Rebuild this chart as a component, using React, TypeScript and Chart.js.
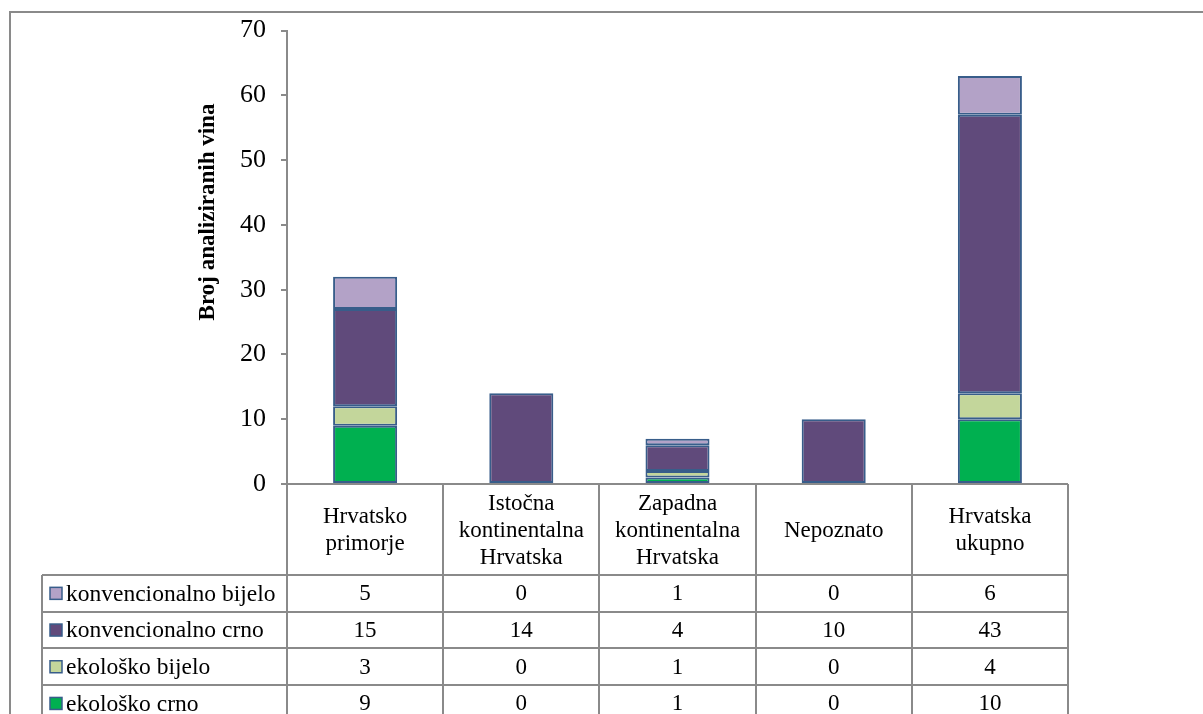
import React, { useEffect, useRef } from "react";
import { Chart, registerables } from "chart.js";

Chart.register(...registerables);

// ---------- data ----------
const categories: string[][] = [
  ["Hrvatsko", "primorje"],
  ["Istočna", "kontinentalna", "Hrvatska"],
  ["Zapadna", "kontinentalna", "Hrvatska"],
  ["Nepoznato"],
  ["Hrvatska", "ukupno"],
];
const ekoloskoCrno = [9, 0, 1, 0, 10];
const ekoloskoBijelo = [3, 0, 1, 0, 4];
const konvencionalnoCrno = [15, 14, 4, 10, 43];
const konvencionalnoBijelo = [5, 0, 1, 0, 6];
const seriesNames = ["ekološko crno", "ekološko bijelo", "konvencionalno crno", "konvencionalno bijelo"];
const seriesValues = [ekoloskoCrno, ekoloskoBijelo, konvencionalnoCrno, konvencionalnoBijelo];
const seriesColors = ["#00B050", "#C3D69B", "#604A7B", "#B3A2C7"];
const yTitle = "Broj analiziranih vina";
const yMin = 0;
const yMax = 70;
const yStep = 10;

// ---------- style ----------
const FONT = '"Liberation Serif", "Times New Roman", serif';
const GRID = "#8a8a8a";
const BAR_BORDER = "#385D8A";
const W = 1203;
const H = 714;

const tablePlugin = {
  id: "dataTable",
  afterDraw(chart: any) {
    const ctx: CanvasRenderingContext2D = chart.ctx;
    const xs = chart.scales.x;
    const area = chart.chartArea;
    const n = categories.length;
    const catW = (xs.getPixelForValue(1) - xs.getPixelForValue(0));
    const colEdges: number[] = [];
    for (let i = 0; i <= n; i++) colEdges.push(Math.round(xs.getPixelForValue(0) - catW / 2 + i * catW));
    const headerTop = area.bottom;
    const headerBottom = 575;
    const rowH = 36.7;
    const tableLeft = 42;
    const rows = seriesNames.length;
    const rowY = (r: number) => headerBottom + r * rowH;
    const tableBottom = rowY(rows);

    ctx.save();
    // outer border
    ctx.strokeStyle = GRID;
    ctx.lineWidth = 2;
    ctx.beginPath();
    ctx.moveTo(10, H + 5);
    ctx.lineTo(10, 12);
    ctx.lineTo(W + 5, 12);
    ctx.stroke();

    // table grid
    ctx.beginPath();
    ctx.moveTo(area.left - 6, headerTop);
    ctx.lineTo(colEdges[n], headerTop);
    for (let r = 0; r <= rows; r++) {
      const y = Math.round(rowY(r));
      ctx.moveTo(tableLeft, y);
      ctx.lineTo(colEdges[n], y);
    }
    ctx.moveTo(tableLeft, headerBottom);
    ctx.lineTo(tableLeft, tableBottom);
    for (let i = 0; i <= n; i++) {
      ctx.moveTo(colEdges[i], headerTop);
      ctx.lineTo(colEdges[i], tableBottom);
    }
    ctx.stroke();

    // header labels
    ctx.fillStyle = "#000";
    ctx.font = `23px ${FONT}`;
    ctx.textAlign = "center";
    ctx.textBaseline = "middle";
    const lh = 27;
    const hc = (headerTop + headerBottom) / 2;
    categories.forEach((lines, i) => {
      const cx = xs.getPixelForValue(i);
      const start = hc - ((lines.length - 1) * lh) / 2;
      lines.forEach((t, k) => ctx.fillText(t, cx, start + k * lh + 1));
    });

    // rows (top to bottom = last series first)
    for (let r = 0; r < rows; r++) {
      const s = rows - 1 - r;
      const cy = rowY(r) + rowH / 2;
      // legend key
      ctx.fillStyle = seriesColors[s];
      ctx.fillRect(50, cy - 6, 12, 12);
      ctx.strokeStyle = BAR_BORDER;
      ctx.lineWidth = 1.5;
      ctx.strokeRect(50, cy - 6, 12, 12);
      ctx.fillStyle = "#000";
      ctx.textAlign = "left";
      ctx.font = `23.5px ${FONT}`;
      ctx.fillText(seriesNames[s], 66, cy + 1);
      ctx.font = `23px ${FONT}`;
      ctx.textAlign = "center";
      seriesValues[s].forEach((v, i) => {
        ctx.fillText(String(v), xs.getPixelForValue(i), cy + 1);
      });
    }

    // y axis title
    ctx.translate(208, 212);
    ctx.rotate(-Math.PI / 2);
    ctx.font = `bold 23px ${FONT}`;
    ctx.textAlign = "center";
    ctx.textBaseline = "middle";
    ctx.fillText(yTitle, 0, 0);
    ctx.restore();
  },
};

export default function App() {
  const ref = useRef<HTMLCanvasElement | null>(null);
  useEffect(() => {
    if (!ref.current) return;
    const chart = new Chart(ref.current, {
      type: "bar",
      data: {
        labels: categories.map((c) => c.join(" ")),
        datasets: seriesNames.map((name, s) => ({
          label: name,
          data: seriesValues[s].map((v) => (v === 0 ? null : v)),
          backgroundColor: seriesColors[s],
          borderColor: BAR_BORDER,
          borderWidth: 2,
          borderSkipped: false,
          categoryPercentage: 1,
          barPercentage: 0.41,
        })),
      },
      options: {
        responsive: false,
        devicePixelRatio: 1,
        animation: false,
        layout: { padding: { left: 0, right: W - 1068, top: 27, bottom: 0 } },
        plugins: { legend: { display: false }, tooltip: { enabled: false }, title: { display: false } },
        scales: {
          x: {
            stacked: true,
            ticks: { display: false },
            grid: { display: false },
            border: { display: false },
            afterFit: (scale: any) => {
              scale.height = H - 484;
            },
          },
          y: {
            stacked: true,
            min: yMin,
            max: yMax,
            ticks: { stepSize: yStep, color: "#000", font: { family: FONT, size: 26 }, padding: 15 },
            grid: { drawOnChartArea: false, drawTicks: true, tickLength: 6, color: GRID, lineWidth: 2 },
            border: { color: GRID, width: 2 },
            afterFit: (scale: any) => {
              scale.width = 287;
            },
          },
        },
      },
      plugins: [tablePlugin],
    });
    return () => chart.destroy();
  }, []);
  return (
    <div style={{ position: "absolute", left: 0, top: 0, width: W, height: H, background: "#fff" }}>
      <canvas ref={ref} width={W} height={H} style={{ width: W, height: H, display: "block" }} />
    </div>
  );
}
